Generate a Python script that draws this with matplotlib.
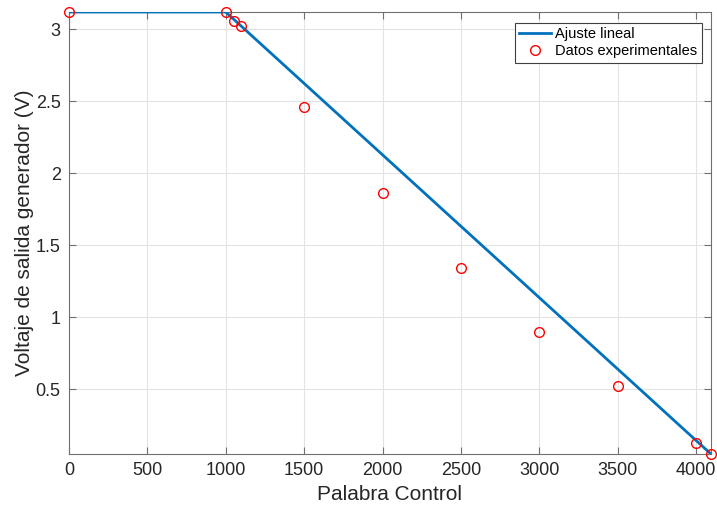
import matplotlib.pyplot as plt

plt.rcParams['font.family'] = ['Liberation Sans', 'DejaVu Sans']

# datos medidos
palabra = [0, 1000, 1050, 1100, 1500, 2000, 2500, 3000, 3500, 4000, 4095]
voltaje = [3.12, 3.12, 3.06, 3.02, 2.46, 1.86, 1.34, 0.90, 0.52, 0.13, 0.05]

# ajuste lineal (tramo saturado + recta)
ajuste_x = [0, 1000, 4095]
ajuste_y = [3.12, 3.12, 0.05]

xticks = [0, 500, 1000, 1500, 2000, 2500, 3000, 3500, 4000]
yticks = [0.5, 1, 1.5, 2, 2.5, 3]
ytick_labels = ['0.5', '1', '1.5', '2', '2.5', '3']

fig = plt.figure(figsize=(7.17, 5.09), dpi=100)
ax = fig.add_axes([0.0962, 0.108, 0.8954, 0.8684])

ax.plot(ajuste_x, ajuste_y, color='#0072BD', lw=2.0, label='Ajuste lineal', zorder=3)
ax.plot(palabra, voltaje, 'o', mfc='none', mec='#FF0000', ms=7, mew=1.0,
        label='Datos experimentales', zorder=4, clip_on=False)

ax.set_xlim(0, 4095)
ax.set_ylim(0.05, 3.12)
ax.set_xticks(xticks)
ax.set_yticks(yticks)
ax.set_yticklabels(ytick_labels)

ax.grid(True, color='#e3e3e3', lw=0.8)
ax.set_axisbelow(True)
for s in ax.spines.values():
    s.set_color('#707070')
    s.set_linewidth(0.8)
ax.tick_params(direction='in', top=True, right=True, length=5, width=0.8,
               color='#707070', labelsize=13, labelcolor='#262626', pad=6)

ax.set_xlabel('Palabra Control', fontsize=15, color='#262626', labelpad=4)
ax.set_ylabel('Voltaje de salida generador (V)', fontsize=15, color='#262626', labelpad=1)

leg = ax.legend(loc='upper right', fontsize=10.5, fancybox=False, framealpha=1,
                edgecolor='#404040', borderpad=0.3, handlelength=2.2,
                handletextpad=0.3, labelspacing=0.2, borderaxespad=0,
                bbox_to_anchor=(0.986, 0.975))
leg.get_frame().set_linewidth(0.8)

fig.savefig('out.png', dpi=100)
